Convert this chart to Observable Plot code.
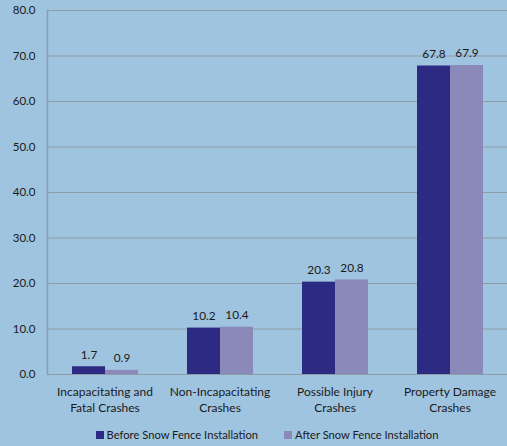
<!DOCTYPE html>
<html>
<head>
<meta charset="utf-8">
<script src="https://cdn.jsdelivr.net/npm/d3@7"></script>
<script src="https://cdn.jsdelivr.net/npm/@observablehq/plot@0.6"></script>
<style>
  html, body { margin: 0; padding: 0; background: #9FC4E0; }
  body { width: 507px; height: 446px; overflow: hidden; font-family: Lato, "Open Sans", sans-serif; }
  #legend { display: flex; justify-content: center; gap: 26px; padding-left: 27px; font-size: 11.2px; color: #1a1a1a; margin-top: 8px; }
  #legend span.item { display: flex; align-items: center; }
  #legend i { display: inline-block; width: 8px; height: 8px; margin-right: 3px; }
</style>
</head>
<body>
<div id="chart"></div>
<div id="legend"></div>
<script>
const categories = ["Incapacitating and\nFatal Crashes", "Non-Incapacitating\nCrashes", "Possible Injury\nCrashes", "Property Damage\nCrashes"];
const series = ["Before Snow Fence Installation", "After Snow Fence Installation"];
const before = [1.7, 10.2, 20.3, 67.8];
const after = [0.9, 10.4, 20.8, 67.9];
const yTicks = [0, 10, 20, 30, 40, 50, 60, 70, 80];
const colors = ["#2D2A84", "#8A89BA"];

const data = [];
categories.forEach((c, i) => {
  data.push({category: c, series: series[0], value: before[i]});
  data.push({category: c, series: series[1], value: after[i]});
});

const chart = Plot.plot({
  width: 507,
  height: 420,
  marginLeft: 47,
  marginRight: 0,
  marginTop: 10,
  marginBottom: 46,
  style: {background: "transparent", fontFamily: "Lato, 'Open Sans', sans-serif", fontSize: "11.5px", color: "#1a1a1a"},
  fx: {domain: categories, padding: 0, label: null, axis: null},
  x: {domain: series, paddingInner: 0, paddingOuter: 0.74, axis: null},
  y: {domain: [0, 80], label: null},
  color: {domain: series, range: colors},
  marks: [
    Plot.ruleY(yTicks, {stroke: "#8E9CA8", strokeWidth: 1}),
    Plot.frame({anchor: "left", facetAnchor: "left", stroke: "#8E9CA8", strokeWidth: 1.5}),
    Plot.axisY({ticks: yTicks, tickSize: 0, tickPadding: 12, tickFormat: d3.format(".1f"), fontSize: 11.5, label: null}),
    Plot.axisFx({anchor: "bottom", tickSize: 0, tickPadding: 10, fontSize: 12, lineHeight: 1.35, label: null}),
    Plot.barY(data, {fx: "category", x: "series", y: "value", fill: "series"}),
    Plot.text(data, {fx: "category", x: "series", y: "value", text: d => d3.format(".1f")(d.value), dy: -12, fontSize: 11.8, fill: "#1a1a1a"})
  ]
});
document.getElementById("chart").appendChild(chart);

const legend = document.getElementById("legend");
series.forEach((s, i) => {
  const item = document.createElement("span");
  item.className = "item";
  const sw = document.createElement("i");
  sw.style.background = colors[i];
  item.appendChild(sw);
  item.appendChild(document.createTextNode(s));
  legend.appendChild(item);
});
</script>
</body>
</html>
